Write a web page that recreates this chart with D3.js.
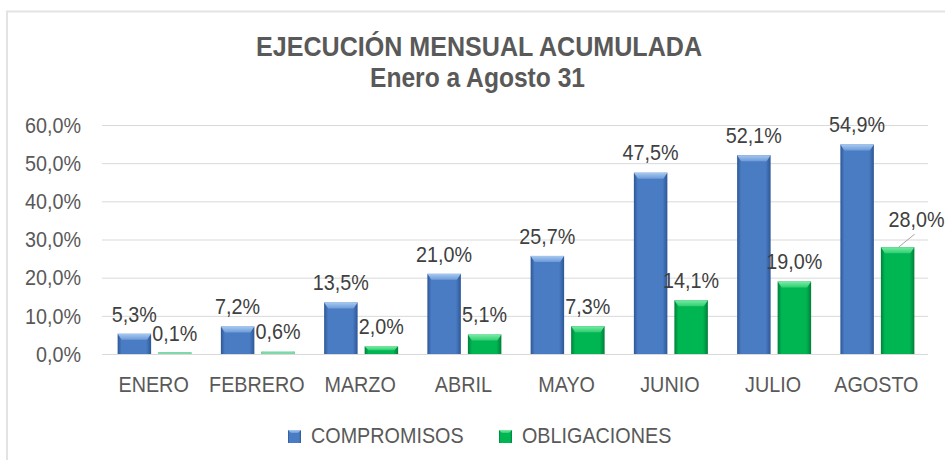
<!DOCTYPE html>
<html>
<head>
<meta charset="utf-8">
<script src="https://cdn.jsdelivr.net/npm/d3@7"></script>
<style>
  body { margin: 0; background: #fff; }
  text { font-family: "Liberation Sans", Arial, sans-serif; }
</style>
</head>
<body>
<svg id="chart" width="945" height="460"></svg>
<script>
// datos del gráfico
const meses = ["ENERO", "FEBRERO", "MARZO", "ABRIL", "MAYO", "JUNIO", "JULIO", "AGOSTO"];
const compromisos = [5.3, 7.2, 13.5, 21.0, 25.7, 47.5, 52.1, 54.9];
const obligaciones = [0.1, 0.6, 2.0, 5.1, 7.3, 14.1, 19.0, 28.0];
const yTicks = [0, 10, 20, 30, 40, 50, 60];
const series = ["COMPROMISOS", "OBLIGACIONES"];

const svg = d3.select("#chart");
const fmt = v => d3.format(".1f")(v).replace(".", ",") + "%";
const FS = 21.5, SX = 0.92; // texto algo estrecho, como en el original
// coloca un texto en (px, py) comprimido horizontalmente
const sq = (px, py) => `translate(${px},${py}) scale(${SX},1)`;

// marco del área del gráfico
svg.append("path")
  .attr("d", "M7,460 V11.5 H945")
  .attr("fill", "none")
  .attr("stroke", "#e3e3e3")
  .attr("stroke-width", 2);

// títulos
svg.append("text")
  .attr("x", 479).attr("y", 55.5)
  .attr("text-anchor", "middle")
  .attr("font-size", 28).attr("font-weight", "bold")
  .attr("fill", "#595959")
  .attr("textLength", 446).attr("lengthAdjust", "spacingAndGlyphs")
  .text("EJECUCIÓN MENSUAL ACUMULADA");
svg.append("text")
  .attr("x", 477.5).attr("y", 87)
  .attr("text-anchor", "middle")
  .attr("font-size", 28).attr("font-weight", "bold")
  .attr("fill", "#595959")
  .attr("textLength", 215).attr("lengthAdjust", "spacingAndGlyphs")
  .text("Enero a Agosto 31");

// escalas
const x = d3.scaleBand().domain(meses).range([102, 928]);
const xs = d3.scaleBand().domain(series).range([-36, 38]).paddingInner(0.173);
const y = d3.scaleLinear().domain([0, 60]).range([354, 125]);

// líneas de cuadrícula y etiquetas del eje Y
svg.append("g")
  .selectAll("line")
  .data(yTicks)
  .join("line")
    .attr("x1", 102).attr("x2", 928)
    .attr("y1", d => y(d) + 0.5).attr("y2", d => y(d) + 0.5)
    .attr("stroke", "#d9d9d9");

svg.append("g")
  .selectAll("text")
  .data(yTicks)
  .join("text")
    .attr("transform", d => sq(81, y(d)))
    .attr("dy", "0.36em")
    .attr("text-anchor", "end")
    .attr("font-size", FS)
    .attr("fill", "#595959")
    .text(fmt);

// etiquetas del eje X
svg.append("g")
  .selectAll("text")
  .data(meses)
  .join("text")
    .attr("transform", d => sq(x(d) + x.bandwidth() / 2, 392))
    .attr("text-anchor", "middle")
    .attr("font-size", FS)
    .attr("fill", "#595959")
    .text(d => d);

// degradados tipo bisel
const defs = svg.append("defs");
const colores = {
  COMPROMISOS: { edge: "#2d5796", mid: "#4a7cc4", top: "#a6c9f0", topEdge: "#6d9ad8" },
  OBLIGACIONES: { edge: "#00803a", mid: "#00b652", top: "#7beba6", topEdge: "#2fcf72" }
};
series.forEach((s, i) => {
  const c = colores[s];
  const g = defs.append("linearGradient").attr("id", "grad" + i)
    .attr("x1", 0).attr("x2", 1).attr("y1", 0).attr("y2", 0);
  g.append("stop").attr("offset", "0%").attr("stop-color", c.edge);
  g.append("stop").attr("offset", "12%").attr("stop-color", c.mid);
  g.append("stop").attr("offset", "85%").attr("stop-color", c.mid);
  g.append("stop").attr("offset", "100%").attr("stop-color", c.edge);
  const t = defs.append("linearGradient").attr("id", "top" + i)
    .attr("x1", 0).attr("x2", 0).attr("y1", 0).attr("y2", 1);
  t.append("stop").attr("offset", "0%").attr("stop-color", c.top);
  t.append("stop").attr("offset", "100%").attr("stop-color", c.topEdge);
});

// barras
const filas = meses.map((m, i) => [
  { mes: m, serie: "COMPROMISOS", idx: 0, v: compromisos[i] },
  { mes: m, serie: "OBLIGACIONES", idx: 1, v: obligaciones[i] }
]).flat();

const bw = xs.bandwidth();
const barX = d => x(d.mes) + x.bandwidth() / 2 + xs(d.serie);

const bars = svg.append("g")
  .selectAll("g")
  .data(filas)
  .join("g");

bars.append("rect")
  .attr("x", barX)
  .attr("y", d => y(d.v))
  .attr("width", bw)
  .attr("height", d => Math.max(0, y(0) - y(d.v)))
  .attr("fill", d => `url(#grad${d.idx})`);

// bisel superior
bars.filter(d => y(0) - y(d.v) > 3)
  .append("path")
  .attr("d", d => {
    const x0 = barX(d), t = y(d.v);
    const h = Math.min(6, (y(0) - t) / 2), e = Math.min(4, h);
    return `M${x0},${t} H${x0 + bw} L${x0 + bw - e},${t + h} H${x0 + e} Z`;
  })
  .attr("fill", d => `url(#top${d.idx})`);

// barras casi nulas (línea verde clara)
bars.filter(d => y(0) - y(d.v) <= 3)
  .append("rect")
  .attr("x", barX)
  .attr("y", d => y(0) - 2)
  .attr("width", bw)
  .attr("height", 2)
  .attr("fill", "#7fd8a8");

// etiquetas de datos
const movida = { mes: "AGOSTO", serie: "OBLIGACIONES", dx: 19, dy: -8 };
const esMovida = d => d.mes === movida.mes && d.serie === movida.serie;

bars.append("text")
  .attr("transform", d => sq(
    barX(d) + bw / 2 + (esMovida(d) ? movida.dx : 0),
    y(d.v) - 20 + (esMovida(d) ? movida.dy : 0)))
  .attr("dy", "0.36em")
  .attr("text-anchor", "middle")
  .attr("font-size", FS)
  .attr("fill", "#404040")
  .text(d => fmt(d.v));

// línea guía de la etiqueta movida
bars.filter(esMovida)
  .append("line")
  .attr("x1", d => barX(d) + bw / 2 + 1)
  .attr("y1", d => y(d.v))
  .attr("x2", d => barX(d) + bw / 2 + 17)
  .attr("y2", d => y(d.v) - 13)
  .attr("stroke", "#a6a6a6");

// leyenda
const leyenda = [
  { serie: "COMPROMISOS", idx: 0, x: 288 },
  { serie: "OBLIGACIONES", idx: 1, x: 499 }
];
const lg = svg.append("g").selectAll("g").data(leyenda).join("g");
lg.append("rect")
  .attr("x", d => d.x).attr("y", 430)
  .attr("width", 13).attr("height", 13)
  .attr("fill", d => `url(#grad${d.idx})`);
lg.append("path")
  .attr("d", d => `M${d.x},430 H${d.x + 13} L${d.x + 10},433 H${d.x + 3} Z`)
  .attr("fill", d => `url(#top${d.idx})`);
lg.append("text")
  .attr("transform", d => sq(d.x + 23, 443))
  .attr("font-size", FS)
  .attr("fill", "#595959")
  .text(d => d.serie);
</script>
</body>
</html>
